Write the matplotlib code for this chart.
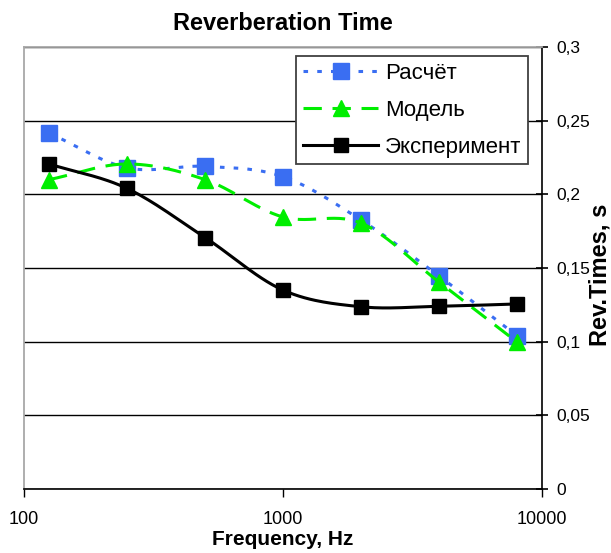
import numpy as np
import matplotlib
matplotlib.use('Agg')
import matplotlib.pyplot as plt
from matplotlib.lines import Line2D
from matplotlib.ticker import FuncFormatter

plt.rcParams['font.family'] = ['Liberation Sans', 'DejaVu Sans']

freq = [125, 250, 500, 1000, 2000, 4000, 8000]
raschet = [0.2416, 0.218, 0.219, 0.212, 0.1826, 0.1446, 0.104]
model = [0.210, 0.2206, 0.210, 0.1846, 0.1805, 0.1405, 0.0998]
experiment = [0.2206, 0.204, 0.1707, 0.135, 0.1237, 0.124, 0.1256]
labels = ['Расчёт', 'Модель', 'Эксперимент']


def smooth(x, y, n=30):
    # excel-style smoothed line: catmull-rom bezier through the points, log-x space
    lx = np.log10(x)
    y = np.asarray(y, float)
    px = np.concatenate([[2*lx[0]-lx[1]], lx, [2*lx[-1]-lx[-2]]])
    py = np.concatenate([[2*y[0]-y[1]], y, [2*y[-1]-y[-2]]])
    ox, oy = [], []
    t = np.linspace(0, 1, n)
    for i in range(1, len(px)-2):
        for arr, out in ((px, ox), (py, oy)):
            p0, p1, p2, p3 = arr[i-1], arr[i], arr[i+1], arr[i+2]
            out.extend((1-t)**3*p1 + 3*(1-t)**2*t*(p1+(p2-p0)/6) +
                       3*(1-t)*t**2*(p2-(p3-p1)/6) + t**3*p2)
    return 10**np.array(ox), np.array(oy)


fig = plt.figure(figsize=(6.11, 5.53), dpi=100)
ax = fig.add_axes([24/611, 1-489/553, 518/611, 442/553])

blue = '#3A6EF2'
green = '#00EE00'
styles = [
    dict(color=blue, ls=(0, (1.5, 3)), marker='s', ms=12),
    dict(color=green, ls=(0, (6, 3.5)), marker='^', ms=12),
    dict(color='black', ls='-', marker='s', ms=9.5),
]

handles = []
for i, (vals, st) in enumerate(zip([raschet, model, experiment], styles)):
    sx, sy = smooth(freq, vals)
    ax.plot(sx, sy, color=st['color'], ls=st['ls'], lw=2.2, zorder=3+i)
    ax.plot(freq, vals, ls='none', marker=st['marker'], ms=st['ms'],
            color=st['color'], mec=st['color'], zorder=3+i)
    handles.append(Line2D([], [], color=st['color'], ls=st['ls'], lw=2.2,
                          marker=st['marker'], ms=st['ms'], mec=st['color']))

ax.set_xscale('log')
ax.set_xlim(100, 10000)
ax.set_ylim(0, 0.3)
ax.set_xticks([100, 1000, 10000])
ax.set_xticklabels(['100', '1000', '10000'])
ax.xaxis.set_minor_locator(matplotlib.ticker.NullLocator())
ax.set_yticks(np.arange(0, 0.301, 0.05))
ax.yaxis.set_major_formatter(FuncFormatter(lambda v, p: ('%g' % round(v, 2)).replace('.', ',')))
ax.yaxis.tick_right()
ax.grid(axis='y', color='black', lw=1)
ax.set_axisbelow(True)

ax.tick_params(axis='y', direction='inout', length=9, width=1.2, labelsize=12.5, pad=6)
ax.tick_params(axis='x', direction='out', length=6, width=1, labelsize=13, pad=10)

for s in ['left', 'top']:
    ax.spines[s].set_color('#a8a8a8')
    ax.spines[s].set_linewidth(1.3)
for s in ['right', 'bottom']:
    ax.spines[s].set_color('black')
    ax.spines[s].set_linewidth(1.2)

ax.set_title('Reverberation Time', fontsize=17, fontweight='bold', pad=12)
ax.set_xlabel('Frequency, Hz', fontsize=15, fontweight='bold', labelpad=1)
fig.text(600/611, 1-275/553, 'Rev.Times, s', rotation=90, fontsize=17,
         fontweight='bold', ha='center', va='center')

leg = ax.legend(handles, labels, loc='upper right', bbox_to_anchor=(1-14/518, 1-9/442),
                fontsize=16, handlelength=3.4, handletextpad=0.3, labelspacing=0.72,
                borderpad=0.3, fancybox=False, framealpha=1, borderaxespad=0)
leg.get_frame().set_edgecolor('#404040')
leg.get_frame().set_linewidth(1.3)

fig.savefig('out.png', dpi=100)
